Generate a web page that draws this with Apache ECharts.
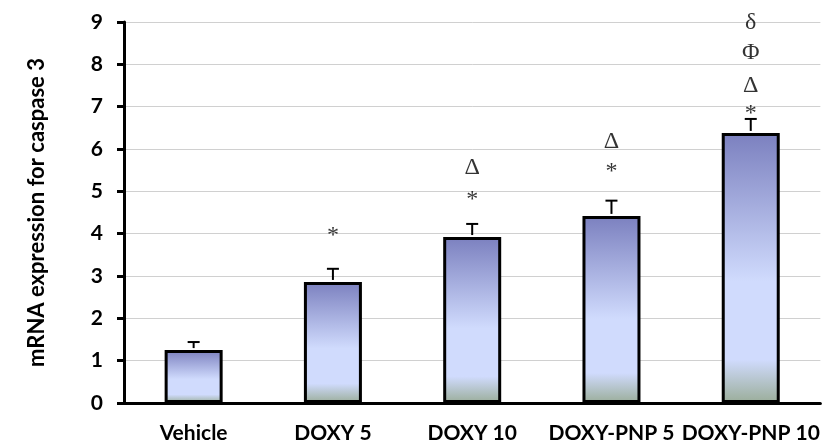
<!DOCTYPE html>
<html>
<head>
<meta charset="utf-8">
<script src="https://cdn.jsdelivr.net/npm/echarts@6/dist/echarts.min.js"></script>
<style>
  html, body { margin: 0; padding: 0; background: #fff; }
  #chart { width: 822px; height: 445px; }
</style>
</head>
<body>
<div id="chart"></div>
<script>
// 数据
var categories = ['Vehicle', 'DOXY 5', 'DOXY 10', 'DOXY-PNP 5', 'DOXY-PNP 10'];
var means = [1.25, 2.86, 3.92, 4.42, 6.38];
var errors = [0.19, 0.31, 0.31, 0.36, 0.33];
var yTicks = [0, 1, 2, 3, 4, 5, 6, 7, 8, 9];
// significance marks: [category index, value level, symbol]
var marks = [
  [1, 3.95, '*'],
  [2, 4.8, '*'], [2, 5.56, 'Δ'],
  [3, 5.47, '*'], [3, 6.17, 'Δ'],
  [4, 6.84, '*'], [4, 7.49, 'Δ'], [4, 8.27, 'Φ'], [4, 8.98, 'δ']
];

var chart = echarts.init(document.getElementById('chart'));

var barGradient = new echarts.graphic.LinearGradient(0, 0, 0, 1, [
  { offset: 0, color: '#7b80bf' },
  { offset: 0.55, color: '#d0dbfd' },
  { offset: 0.84, color: '#d0dbfd' },
  { offset: 1, color: '#9aad99' }
]);

var option = {
  animation: false,
  grid: { left: 124, top: 22, width: 705, height: 381 },
  xAxis: {
    type: 'category',
    data: categories,
    axisLine: { lineStyle: { color: '#000', width: 3 } },
    axisTick: { show: false },
    axisLabel: {
      interval: 0,
      color: '#000', fontFamily: 'Lato', fontWeight: 'bold', fontSize: 21, margin: 20
    }
  },
  yAxis: {
    type: 'value',
    min: yTicks[0],
    max: yTicks[yTicks.length - 1],
    interval: 1,
    name: 'mRNA expression for caspase 3',
    nameLocation: 'middle',
    nameGap: 76,
    nameTextStyle: { color: '#000', fontFamily: 'Lato', fontWeight: 'bold', fontSize: 22 },
    axisLine: { show: true, lineStyle: { color: '#000', width: 3 } },
    axisTick: { show: true, length: 7, lineStyle: { color: '#000', width: 3 } },
    axisLabel: {
      color: '#000', fontFamily: 'Lato', fontWeight: 'bold', fontSize: 21, margin: 21
    },
    splitLine: { lineStyle: { color: '#d0d0d0', width: 1 } }
  },
  series: [
    {
      type: 'bar',
      data: means,
      barWidth: 58,
      itemStyle: { color: barGradient, borderColor: '#000', borderWidth: 3 },
      z: 2
    },
    {
      // error bars (upper only)
      type: 'custom',
      data: means.map(function (m, i) { return [i, m, m + errors[i]]; }),
      renderItem: function (params, api) {
        var base = api.coord([api.value(0), api.value(1)]);
        var top = api.coord([api.value(0), api.value(2)]);
        return {
          type: 'group',
          children: [
            { type: 'line', shape: { x1: base[0], y1: base[1] - 2, x2: top[0], y2: top[1] },
              style: { stroke: '#000', lineWidth: 2 } },
            { type: 'line', shape: { x1: top[0] - 6, y1: top[1], x2: top[0] + 6, y2: top[1] },
              style: { stroke: '#000', lineWidth: 2 } }
          ]
        };
      },
      z: 3
    },
    {
      type: 'scatter',
      data: marks.map(function (m) { return [m[0], m[1], m[2]]; }),
      symbolSize: 0,
      label: {
        show: true,
        position: 'inside',
        formatter: function (p) { return p.value[2]; },
        color: '#000',
        fontFamily: 'Liberation Serif',
        fontSize: 24
      },
      z: 4
    }
  ]
};
chart.setOption(option);
</script>
</body>
</html>
